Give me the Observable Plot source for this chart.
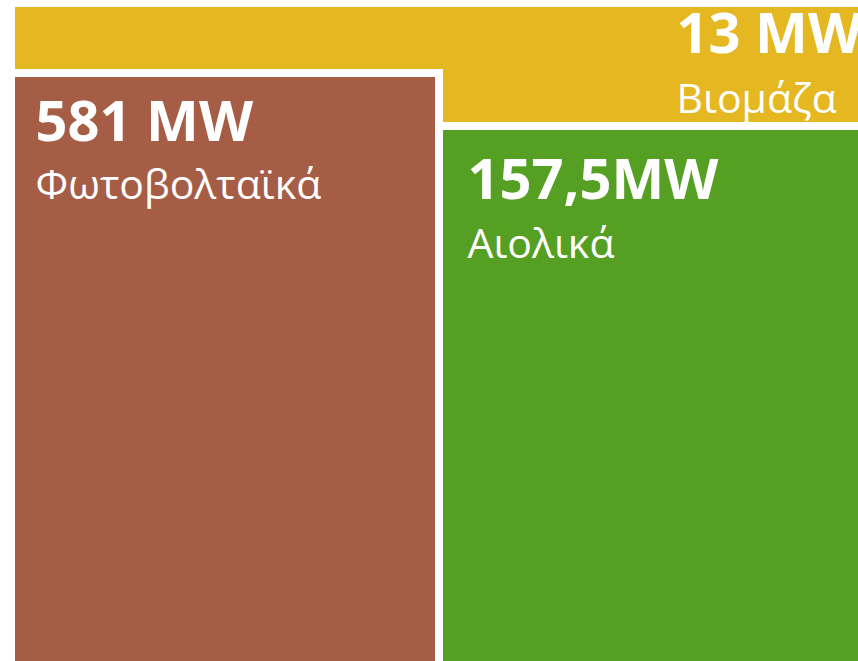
<!DOCTYPE html>
<html>
<head>
<meta charset="utf-8">
<script src="https://cdn.jsdelivr.net/npm/d3@7"></script>
<script src="https://cdn.jsdelivr.net/npm/@observablehq/plot@0.6"></script>
<style>
  html, body { margin: 0; padding: 0; background: #ffffff; overflow: hidden; }
  #chart svg { display: block; overflow: hidden; }
</style>
</head>
<body>
<div id="chart"></div>
<script>
// ---- data ----
const categories = ["Βιομάζα", "Φωτοβολταϊκά", "Αιολικά"];
const valueLabels = ["13 MW", "581 MW", "157,5MW"];
const values = [13, 581, 157.5];
const colors = ["#E5B821", "#A65D45", "#55A023"];

// ---- layout of the (cropped) treemap cells, in chart units ----
const W = 858, H = 661, GAP = 8;
const cellBox = {
  "Βιομάζα":      {x1: 15,  x2: 900, y1: 7,   y2: 122, tx: 676},
  "Φωτοβολταϊκά": {x1: 15,  x2: 435, y1: 77,  y2: 700, tx: 35},
  "Αιολικά":      {x1: 443, x2: 900, y1: 130, y2: 700, tx: 467}
};

const cells = categories.map((name, i) => ({
  name, value: values[i], label: valueLabels[i], color: colors[i], ...cellBox[name]
}));
// white separators (gutters) behind the lower two cells
const gutters = cells.slice(1).map(d => ({
  x1: d.x1 === 15 ? d.x1 : d.x1 - GAP, x2: d.x2 + GAP, y1: d.y1 - GAP, y2: d.y2
}));

const plot = Plot.plot({
  width: W,
  height: H,
  margin: 0,
  x: {domain: [0, W], range: [0, W], axis: null},
  y: {domain: [0, H], range: [0, H], axis: null},
  style: {fontFamily: "'Open Sans', sans-serif", background: "#ffffff"},
  marks: [
    Plot.rect(cells.slice(0, 1), {x1: "x1", x2: "x2", y1: "y1", y2: "y2", fill: d => d.color}),
    Plot.rect(gutters, {x1: "x1", x2: "x2", y1: "y1", y2: "y2", fill: "#ffffff"}),
    Plot.rect(cells.slice(1), {x1: "x1", x2: "x2", y1: "y1", y2: "y2", fill: d => d.color}),
    Plot.text(cells, {
      x: "tx", y: d => d.y1 + (d.name === "Βιομάζα" ? 45 : d.name === "Αιολικά" ? 68 : 63),
      text: "label", textAnchor: "start", lineAnchor: "bottom",
      fill: "white", fontSize: 56, fontWeight: 700
    }),
    Plot.text(cells, {
      x: "tx", y: d => d.y1 + (d.name === "Βιομάζα" ? 105 : d.name === "Αιολικά" ? 127 : 121),
      text: "name", textAnchor: "start", lineAnchor: "bottom",
      fill: "white", fontSize: 41, fontWeight: 400
    })
  ]
});
document.getElementById("chart").appendChild(plot);
</script>
</body>
</html>
